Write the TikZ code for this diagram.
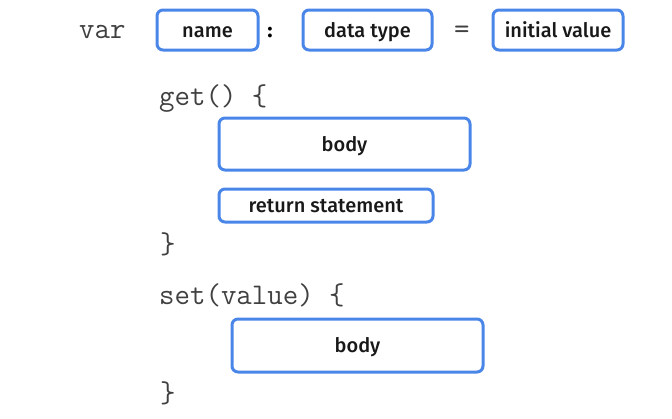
\documentclass[tikz,border=0pt]{standalone}
\usepackage{fontspec}
\setsansfont{Fira Sans}[UprightFont={* Medium}]
\definecolor{boxblue}{HTML}{4A86E8}
\tikzset{
  field/.style={draw=boxblue,line width=3pt,rounded corners=6pt,inner sep=0pt,
    font=\sffamily\fontsize{20}{22}\selectfont,text=black!90,text height=14pt,text depth=0pt},
  code/.style={inner sep=0pt,anchor=west,font=\ttfamily\fontsize{30}{32}\selectfont,text=black!75},
}
\begin{document}
\begin{tikzpicture}[x=1pt,y=-1pt]
\useasboundingbox (0,0) rectangle (672,418);
\pgfmathsetmacro{\hrow}{40}
% declaration line
\node[code] (var) at (79,32) {var};
\node[field,minimum width=101,minimum height=\hrow] (name) at (207.5,30) {name};
\node[field,minimum width=129,minimum height=\hrow] (type) at (367.5,30) {data type};
\node[field,minimum width=130,minimum height=\hrow] (init) at (558,30) {initial value};
\node[font=\sffamily\bfseries\fontsize{20}{22}\selectfont] (colon) at (270,33) {:};
\node[code] (eq) at (454,32) {=};
% getter
\node[code] (get) at (159,99) {get()\ \{};
\node[field,minimum width=251,minimum height=52] (gbody) at (344.5,144) {body};
\node[field,minimum width=214,minimum height=33] (ret) at (326,205.5) {return statement};
\node[code] (gend) at (160,244) {\}};
% setter
\node[code] (set) at (159,295) {set(value)\ \{};
\node[field,minimum width=251,minimum height=53] (sbody) at (357.5,345.5) {body};
\node[code] (send) at (160,393) {\}};
\end{tikzpicture}
\end{document}
